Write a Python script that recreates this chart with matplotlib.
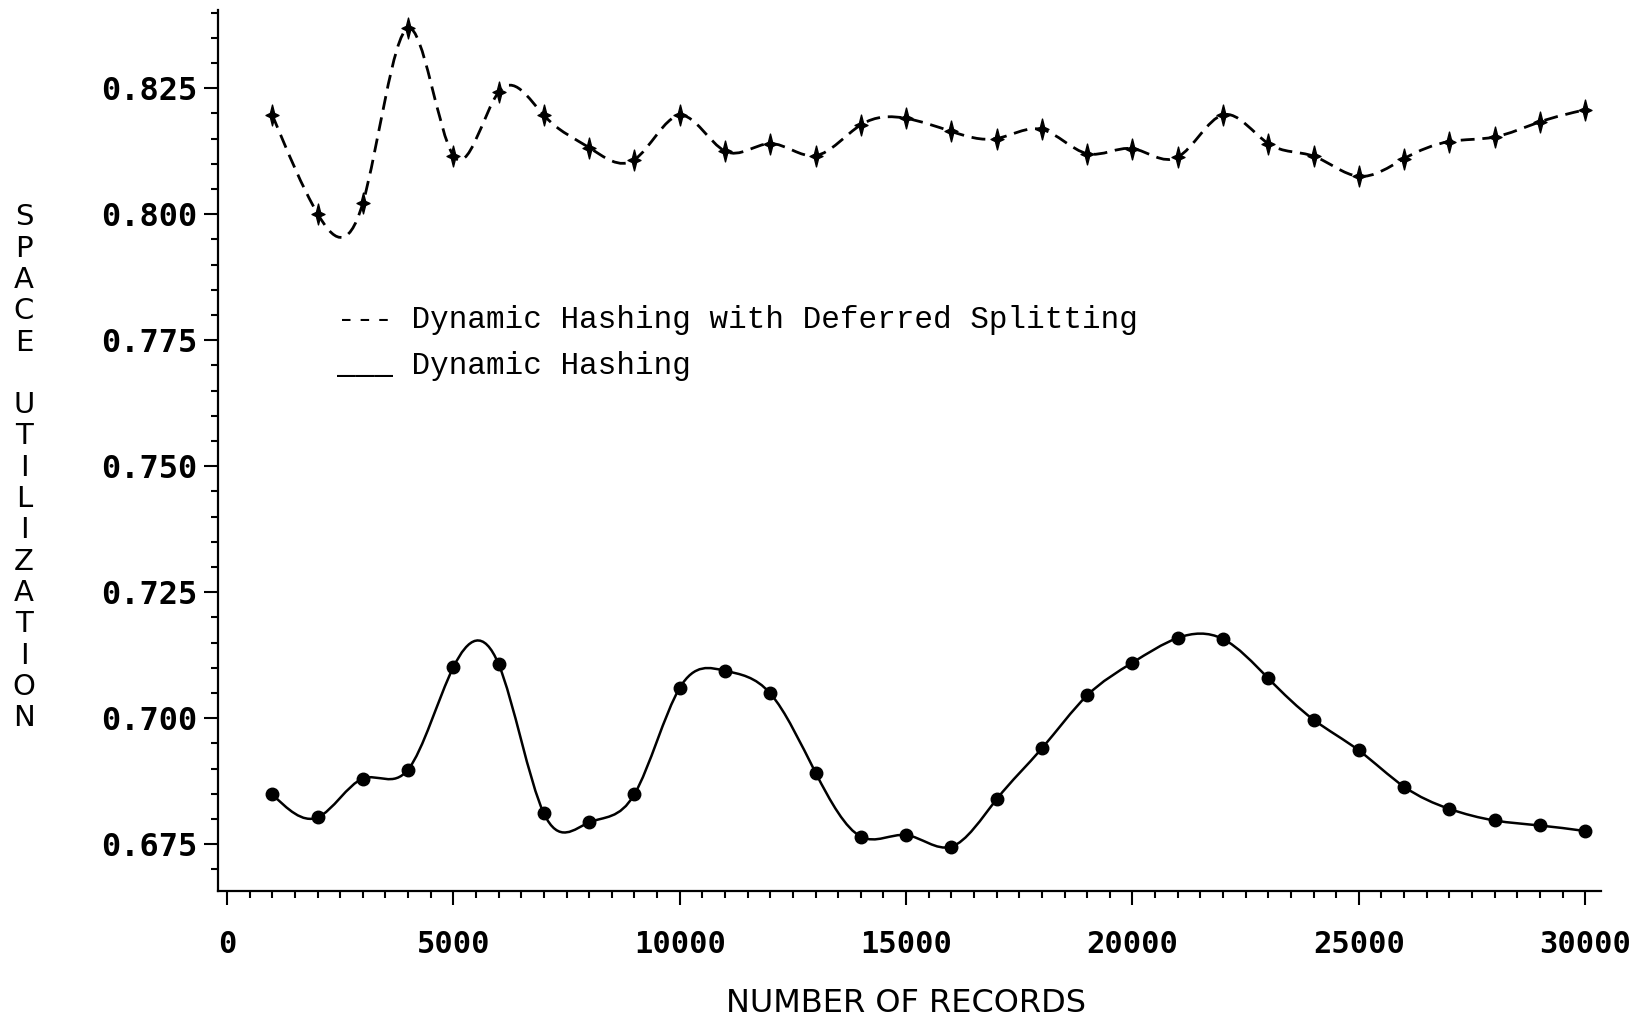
import numpy as np
import matplotlib
matplotlib.use("Agg")
from matplotlib import pyplot as plt
from matplotlib.path import Path
from matplotlib.patches import PathPatch

# number of records
records = np.arange(1000, 30001, 1000)

# space utilization, dynamic hashing with deferred splitting (dashed)
deferred = [0.8197, 0.8001, 0.8022, 0.8369, 0.8116, 0.8242, 0.8196, 0.8132, 0.8108, 0.8196,
            0.8125, 0.8140, 0.8116, 0.8177, 0.8190, 0.8164, 0.8150, 0.8168, 0.8120, 0.8130,
            0.8113, 0.8197, 0.8140, 0.8115, 0.8075, 0.8110, 0.8144, 0.8153, 0.8183, 0.8207]

# space utilization, plain dynamic hashing (solid)
plain = [0.6849, 0.6803, 0.6880, 0.6898, 0.7101, 0.7107, 0.6811, 0.6793, 0.6849, 0.7060,
         0.7094, 0.7049, 0.6892, 0.6765, 0.6768, 0.6745, 0.6839, 0.6940, 0.7045, 0.7110,
         0.7159, 0.7157, 0.7079, 0.6997, 0.6936, 0.6864, 0.6820, 0.6797, 0.6787, 0.6776]

x_ticks = [0, 5000, 10000, 15000, 20000, 25000, 30000]
y_ticks = [0.675, 0.700, 0.725, 0.750, 0.775, 0.800, 0.825]


def spline_path(x, y):
    # natural cubic spline through the points, drawn as bezier segments
    x = np.asarray(x, float)
    y = np.asarray(y, float)
    n = len(x)
    h = x[1] - x[0]
    A = np.zeros((n, n))
    r = np.zeros(n)
    A[0, 0], A[0, 1] = 2, 1
    r[0] = 3 * (y[1] - y[0]) / h
    for i in range(1, n - 1):
        A[i, i - 1], A[i, i], A[i, i + 1] = 1, 4, 1
        r[i] = 3 * (y[i + 1] - y[i - 1]) / h
    A[-1, -2], A[-1, -1] = 1, 2
    r[-1] = 3 * (y[-1] - y[-2]) / h
    m = np.linalg.solve(A, r)
    verts = [(x[0], y[0])]
    codes = [Path.MOVETO]
    for i in range(n - 1):
        verts += [(x[i] + h / 3, y[i] + m[i] * h / 3),
                  (x[i + 1] - h / 3, y[i + 1] - m[i + 1] * h / 3),
                  (x[i + 1], y[i + 1])]
        codes += [Path.CURVE4] * 3
    return Path(verts, codes)


star = Path([(0, 1), (0.2, 0.2), (0.62, 0), (0.2, -0.2), (0, -1),
             (-0.2, -0.2), (-0.62, 0), (-0.2, 0.2), (0, 1)],
            [Path.MOVETO] + [Path.LINETO] * 7 + [Path.CLOSEPOLY])

fig = plt.figure(figsize=(16.3, 10.19), dpi=100)
ax = fig.add_axes([0.1337, 0.1256, 0.8485, 0.8646])

ax.add_patch(PathPatch(spline_path(records, deferred), facecolor="none", edgecolor="black",
                       lw=2.0, linestyle=(0, (5, 2.8))))
ax.plot(records, deferred, linestyle="none", marker=star, markersize=15, color="black")

ax.add_patch(PathPatch(spline_path(records, plain), facecolor="none", edgecolor="black", lw=1.8))
ax.plot(records, plain, linestyle="none", marker="o", markersize=9, color="black")

ax.set_xlim(-200, 30350)
ax.set_ylim(0.6657, 0.8405)
for s in ["top", "right"]:
    ax.spines[s].set_visible(False)
for s in ["left", "bottom"]:
    ax.spines[s].set_linewidth(1.6)

ax.set_xticks(x_ticks)
ax.set_xticks(np.arange(0, 30001, 500), minor=True)
ax.set_yticks(y_ticks)
ax.set_yticks(np.arange(0.670, 0.8401, 0.005), minor=True)
ax.set_xticklabels([str(v) for v in x_ticks], family="DejaVu Sans Mono", weight="bold", fontsize=22)
ax.set_yticklabels(["%.3f" % v for v in y_ticks], family="DejaVu Sans Mono", weight="bold", fontsize=23)
ax.tick_params(which="major", direction="out", length=10, width=1.5)
ax.tick_params(which="minor", direction="out", length=5, width=1.5)
ax.tick_params(axis="x", which="major", pad=18)
ax.tick_params(axis="y", which="major", pad=5)

fig.text(0.556, 0.0157, "NUMBER OF RECORDS", ha="center", va="center", fontsize=23)
ylab = "SPACE UTILIZATION"
fig.text(0.0147, 0.541, "\n".join(ylab), ha="center", va="center", fontsize=21, linespacing=1.15)

ax.text(0.086, 0.648, "--- Dynamic Hashing with Deferred Splitting", transform=ax.transAxes,
        family="Liberation Mono", fontsize=22.3, va="center")
ax.text(0.086, 0.596, "___ Dynamic Hashing", transform=ax.transAxes,
        family="Liberation Mono", fontsize=22.3, va="center")

fig.savefig("out.png", dpi=100)
